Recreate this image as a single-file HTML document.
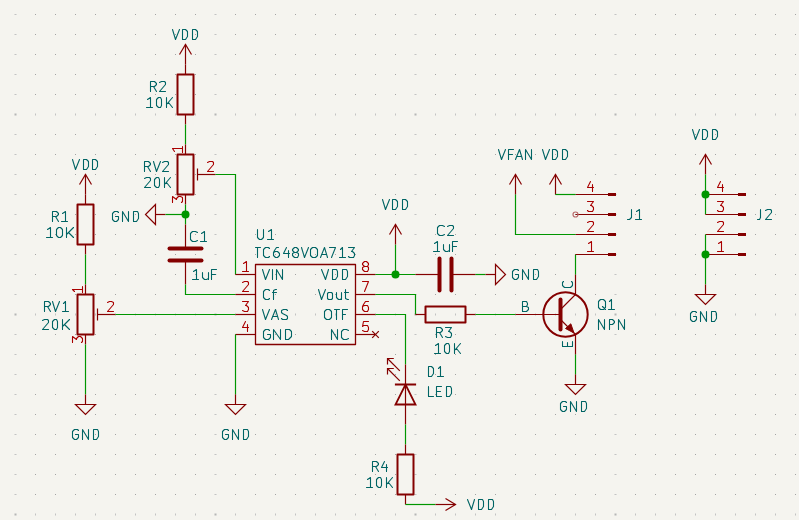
<!DOCTYPE html>
<html><head><meta charset="utf-8"><title>schematic</title>
<style>html,body{margin:0;padding:0;background:#f5f4ef;overflow:hidden}svg{display:block}body{font-family:"Liberation Sans",sans-serif}</style>
</head><body><svg width="799" height="520" viewBox="0 0 799 520">
<rect width="799" height="520" fill="#f5f4ef"/>
<path d="M35,14h1v1h-1zM35,34h1v1h-1zM35,54h1v1h-1zM35,74h1v1h-1zM35,94h1v1h-1zM35,134h1v1h-1zM35,154h1v1h-1zM35,174h1v1h-1zM35,194h1v1h-1zM35,214h1v1h-1zM35,234h1v1h-1zM35,254h1v1h-1zM35,274h1v1h-1zM35,294h1v1h-1zM35,334h1v1h-1zM35,354h1v1h-1zM35,374h1v1h-1zM35,394h1v1h-1zM35,414h1v1h-1zM35,434h1v1h-1zM35,454h1v1h-1zM35,474h1v1h-1zM35,494h1v1h-1zM55,14h1v1h-1zM55,34h1v1h-1zM55,54h1v1h-1zM55,74h1v1h-1zM55,94h1v1h-1zM55,134h1v1h-1zM55,154h1v1h-1zM55,174h1v1h-1zM55,194h1v1h-1zM55,214h1v1h-1zM55,234h1v1h-1zM55,254h1v1h-1zM55,274h1v1h-1zM55,294h1v1h-1zM55,334h1v1h-1zM55,354h1v1h-1zM55,374h1v1h-1zM55,394h1v1h-1zM55,414h1v1h-1zM55,434h1v1h-1zM55,454h1v1h-1zM55,474h1v1h-1zM55,494h1v1h-1zM75,14h1v1h-1zM75,34h1v1h-1zM75,54h1v1h-1zM75,74h1v1h-1zM75,94h1v1h-1zM75,134h1v1h-1zM75,154h1v1h-1zM75,174h1v1h-1zM75,194h1v1h-1zM75,214h1v1h-1zM75,234h1v1h-1zM75,254h1v1h-1zM75,274h1v1h-1zM75,294h1v1h-1zM75,334h1v1h-1zM75,354h1v1h-1zM75,374h1v1h-1zM75,394h1v1h-1zM75,414h1v1h-1zM75,434h1v1h-1zM75,454h1v1h-1zM75,474h1v1h-1zM75,494h1v1h-1zM95,14h1v1h-1zM95,34h1v1h-1zM95,54h1v1h-1zM95,74h1v1h-1zM95,94h1v1h-1zM95,134h1v1h-1zM95,154h1v1h-1zM95,174h1v1h-1zM95,194h1v1h-1zM95,214h1v1h-1zM95,234h1v1h-1zM95,254h1v1h-1zM95,274h1v1h-1zM95,294h1v1h-1zM95,334h1v1h-1zM95,354h1v1h-1zM95,374h1v1h-1zM95,394h1v1h-1zM95,414h1v1h-1zM95,434h1v1h-1zM95,454h1v1h-1zM95,474h1v1h-1zM95,494h1v1h-1zM115,14h1v1h-1zM115,34h1v1h-1zM115,54h1v1h-1zM115,74h1v1h-1zM115,94h1v1h-1zM115,134h1v1h-1zM115,154h1v1h-1zM115,174h1v1h-1zM115,194h1v1h-1zM115,214h1v1h-1zM115,234h1v1h-1zM115,254h1v1h-1zM115,274h1v1h-1zM115,294h1v1h-1zM115,334h1v1h-1zM115,354h1v1h-1zM115,374h1v1h-1zM115,394h1v1h-1zM115,414h1v1h-1zM115,434h1v1h-1zM115,454h1v1h-1zM115,474h1v1h-1zM115,494h1v1h-1zM135,14h1v1h-1zM135,34h1v1h-1zM135,54h1v1h-1zM135,74h1v1h-1zM135,94h1v1h-1zM135,134h1v1h-1zM135,154h1v1h-1zM135,174h1v1h-1zM135,194h1v1h-1zM135,214h1v1h-1zM135,234h1v1h-1zM135,254h1v1h-1zM135,274h1v1h-1zM135,294h1v1h-1zM135,334h1v1h-1zM135,354h1v1h-1zM135,374h1v1h-1zM135,394h1v1h-1zM135,414h1v1h-1zM135,434h1v1h-1zM135,454h1v1h-1zM135,474h1v1h-1zM135,494h1v1h-1zM155,14h1v1h-1zM155,34h1v1h-1zM155,54h1v1h-1zM155,74h1v1h-1zM155,94h1v1h-1zM155,134h1v1h-1zM155,154h1v1h-1zM155,174h1v1h-1zM155,194h1v1h-1zM155,214h1v1h-1zM155,234h1v1h-1zM155,254h1v1h-1zM155,274h1v1h-1zM155,294h1v1h-1zM155,334h1v1h-1zM155,354h1v1h-1zM155,374h1v1h-1zM155,394h1v1h-1zM155,414h1v1h-1zM155,434h1v1h-1zM155,454h1v1h-1zM155,474h1v1h-1zM155,494h1v1h-1zM175,14h1v1h-1zM175,34h1v1h-1zM175,54h1v1h-1zM175,74h1v1h-1zM175,94h1v1h-1zM175,134h1v1h-1zM175,154h1v1h-1zM175,174h1v1h-1zM175,194h1v1h-1zM175,214h1v1h-1zM175,234h1v1h-1zM175,254h1v1h-1zM175,274h1v1h-1zM175,294h1v1h-1zM175,334h1v1h-1zM175,354h1v1h-1zM175,374h1v1h-1zM175,394h1v1h-1zM175,414h1v1h-1zM175,434h1v1h-1zM175,454h1v1h-1zM175,474h1v1h-1zM175,494h1v1h-1zM195,14h1v1h-1zM195,34h1v1h-1zM195,54h1v1h-1zM195,74h1v1h-1zM195,94h1v1h-1zM195,134h1v1h-1zM195,154h1v1h-1zM195,174h1v1h-1zM195,194h1v1h-1zM195,214h1v1h-1zM195,234h1v1h-1zM195,254h1v1h-1zM195,274h1v1h-1zM195,294h1v1h-1zM195,334h1v1h-1zM195,354h1v1h-1zM195,374h1v1h-1zM195,394h1v1h-1zM195,414h1v1h-1zM195,434h1v1h-1zM195,454h1v1h-1zM195,474h1v1h-1zM195,494h1v1h-1zM235,14h1v1h-1zM235,34h1v1h-1zM235,54h1v1h-1zM235,74h1v1h-1zM235,94h1v1h-1zM235,134h1v1h-1zM235,154h1v1h-1zM235,174h1v1h-1zM235,194h1v1h-1zM235,214h1v1h-1zM235,234h1v1h-1zM235,254h1v1h-1zM235,274h1v1h-1zM235,294h1v1h-1zM235,334h1v1h-1zM235,354h1v1h-1zM235,374h1v1h-1zM235,394h1v1h-1zM235,414h1v1h-1zM235,434h1v1h-1zM235,454h1v1h-1zM235,474h1v1h-1zM235,494h1v1h-1zM255,14h1v1h-1zM255,34h1v1h-1zM255,54h1v1h-1zM255,74h1v1h-1zM255,94h1v1h-1zM255,134h1v1h-1zM255,154h1v1h-1zM255,174h1v1h-1zM255,194h1v1h-1zM255,214h1v1h-1zM255,234h1v1h-1zM255,254h1v1h-1zM255,274h1v1h-1zM255,294h1v1h-1zM255,334h1v1h-1zM255,354h1v1h-1zM255,374h1v1h-1zM255,394h1v1h-1zM255,414h1v1h-1zM255,434h1v1h-1zM255,454h1v1h-1zM255,474h1v1h-1zM255,494h1v1h-1zM275,14h1v1h-1zM275,34h1v1h-1zM275,54h1v1h-1zM275,74h1v1h-1zM275,94h1v1h-1zM275,134h1v1h-1zM275,154h1v1h-1zM275,174h1v1h-1zM275,194h1v1h-1zM275,214h1v1h-1zM275,234h1v1h-1zM275,254h1v1h-1zM275,274h1v1h-1zM275,294h1v1h-1zM275,334h1v1h-1zM275,354h1v1h-1zM275,374h1v1h-1zM275,394h1v1h-1zM275,414h1v1h-1zM275,434h1v1h-1zM275,454h1v1h-1zM275,474h1v1h-1zM275,494h1v1h-1zM295,14h1v1h-1zM295,34h1v1h-1zM295,54h1v1h-1zM295,74h1v1h-1zM295,94h1v1h-1zM295,134h1v1h-1zM295,154h1v1h-1zM295,174h1v1h-1zM295,194h1v1h-1zM295,214h1v1h-1zM295,234h1v1h-1zM295,254h1v1h-1zM295,274h1v1h-1zM295,294h1v1h-1zM295,334h1v1h-1zM295,354h1v1h-1zM295,374h1v1h-1zM295,394h1v1h-1zM295,414h1v1h-1zM295,434h1v1h-1zM295,454h1v1h-1zM295,474h1v1h-1zM295,494h1v1h-1zM315,14h1v1h-1zM315,34h1v1h-1zM315,54h1v1h-1zM315,74h1v1h-1zM315,94h1v1h-1zM315,134h1v1h-1zM315,154h1v1h-1zM315,174h1v1h-1zM315,194h1v1h-1zM315,214h1v1h-1zM315,234h1v1h-1zM315,254h1v1h-1zM315,274h1v1h-1zM315,294h1v1h-1zM315,334h1v1h-1zM315,354h1v1h-1zM315,374h1v1h-1zM315,394h1v1h-1zM315,414h1v1h-1zM315,434h1v1h-1zM315,454h1v1h-1zM315,474h1v1h-1zM315,494h1v1h-1zM335,14h1v1h-1zM335,34h1v1h-1zM335,54h1v1h-1zM335,74h1v1h-1zM335,94h1v1h-1zM335,134h1v1h-1zM335,154h1v1h-1zM335,174h1v1h-1zM335,194h1v1h-1zM335,214h1v1h-1zM335,234h1v1h-1zM335,254h1v1h-1zM335,274h1v1h-1zM335,294h1v1h-1zM335,334h1v1h-1zM335,354h1v1h-1zM335,374h1v1h-1zM335,394h1v1h-1zM335,414h1v1h-1zM335,434h1v1h-1zM335,454h1v1h-1zM335,474h1v1h-1zM335,494h1v1h-1zM355,14h1v1h-1zM355,34h1v1h-1zM355,54h1v1h-1zM355,74h1v1h-1zM355,94h1v1h-1zM355,134h1v1h-1zM355,154h1v1h-1zM355,174h1v1h-1zM355,194h1v1h-1zM355,214h1v1h-1zM355,234h1v1h-1zM355,254h1v1h-1zM355,274h1v1h-1zM355,294h1v1h-1zM355,334h1v1h-1zM355,354h1v1h-1zM355,374h1v1h-1zM355,394h1v1h-1zM355,414h1v1h-1zM355,434h1v1h-1zM355,454h1v1h-1zM355,474h1v1h-1zM355,494h1v1h-1zM375,14h1v1h-1zM375,34h1v1h-1zM375,54h1v1h-1zM375,74h1v1h-1zM375,94h1v1h-1zM375,134h1v1h-1zM375,154h1v1h-1zM375,174h1v1h-1zM375,194h1v1h-1zM375,214h1v1h-1zM375,234h1v1h-1zM375,254h1v1h-1zM375,274h1v1h-1zM375,294h1v1h-1zM375,334h1v1h-1zM375,354h1v1h-1zM375,374h1v1h-1zM375,394h1v1h-1zM375,414h1v1h-1zM375,434h1v1h-1zM375,454h1v1h-1zM375,474h1v1h-1zM375,494h1v1h-1zM395,14h1v1h-1zM395,34h1v1h-1zM395,54h1v1h-1zM395,74h1v1h-1zM395,94h1v1h-1zM395,134h1v1h-1zM395,154h1v1h-1zM395,174h1v1h-1zM395,194h1v1h-1zM395,214h1v1h-1zM395,234h1v1h-1zM395,254h1v1h-1zM395,274h1v1h-1zM395,294h1v1h-1zM395,334h1v1h-1zM395,354h1v1h-1zM395,374h1v1h-1zM395,394h1v1h-1zM395,414h1v1h-1zM395,434h1v1h-1zM395,454h1v1h-1zM395,474h1v1h-1zM395,494h1v1h-1zM435,14h1v1h-1zM435,34h1v1h-1zM435,54h1v1h-1zM435,74h1v1h-1zM435,94h1v1h-1zM435,134h1v1h-1zM435,154h1v1h-1zM435,174h1v1h-1zM435,194h1v1h-1zM435,214h1v1h-1zM435,234h1v1h-1zM435,254h1v1h-1zM435,274h1v1h-1zM435,294h1v1h-1zM435,334h1v1h-1zM435,354h1v1h-1zM435,374h1v1h-1zM435,394h1v1h-1zM435,414h1v1h-1zM435,434h1v1h-1zM435,454h1v1h-1zM435,474h1v1h-1zM435,494h1v1h-1zM455,14h1v1h-1zM455,34h1v1h-1zM455,54h1v1h-1zM455,74h1v1h-1zM455,94h1v1h-1zM455,134h1v1h-1zM455,154h1v1h-1zM455,174h1v1h-1zM455,194h1v1h-1zM455,214h1v1h-1zM455,234h1v1h-1zM455,254h1v1h-1zM455,274h1v1h-1zM455,294h1v1h-1zM455,334h1v1h-1zM455,354h1v1h-1zM455,374h1v1h-1zM455,394h1v1h-1zM455,414h1v1h-1zM455,434h1v1h-1zM455,454h1v1h-1zM455,474h1v1h-1zM455,494h1v1h-1zM475,14h1v1h-1zM475,34h1v1h-1zM475,54h1v1h-1zM475,74h1v1h-1zM475,94h1v1h-1zM475,134h1v1h-1zM475,154h1v1h-1zM475,174h1v1h-1zM475,194h1v1h-1zM475,214h1v1h-1zM475,234h1v1h-1zM475,254h1v1h-1zM475,274h1v1h-1zM475,294h1v1h-1zM475,334h1v1h-1zM475,354h1v1h-1zM475,374h1v1h-1zM475,394h1v1h-1zM475,414h1v1h-1zM475,434h1v1h-1zM475,454h1v1h-1zM475,474h1v1h-1zM475,494h1v1h-1zM495,14h1v1h-1zM495,34h1v1h-1zM495,54h1v1h-1zM495,74h1v1h-1zM495,94h1v1h-1zM495,134h1v1h-1zM495,154h1v1h-1zM495,174h1v1h-1zM495,194h1v1h-1zM495,214h1v1h-1zM495,234h1v1h-1zM495,254h1v1h-1zM495,274h1v1h-1zM495,294h1v1h-1zM495,334h1v1h-1zM495,354h1v1h-1zM495,374h1v1h-1zM495,394h1v1h-1zM495,414h1v1h-1zM495,434h1v1h-1zM495,454h1v1h-1zM495,474h1v1h-1zM495,494h1v1h-1zM515,14h1v1h-1zM515,34h1v1h-1zM515,54h1v1h-1zM515,74h1v1h-1zM515,94h1v1h-1zM515,134h1v1h-1zM515,154h1v1h-1zM515,174h1v1h-1zM515,194h1v1h-1zM515,214h1v1h-1zM515,234h1v1h-1zM515,254h1v1h-1zM515,274h1v1h-1zM515,294h1v1h-1zM515,334h1v1h-1zM515,354h1v1h-1zM515,374h1v1h-1zM515,394h1v1h-1zM515,414h1v1h-1zM515,434h1v1h-1zM515,454h1v1h-1zM515,474h1v1h-1zM515,494h1v1h-1zM535,14h1v1h-1zM535,34h1v1h-1zM535,54h1v1h-1zM535,74h1v1h-1zM535,94h1v1h-1zM535,134h1v1h-1zM535,154h1v1h-1zM535,174h1v1h-1zM535,194h1v1h-1zM535,214h1v1h-1zM535,234h1v1h-1zM535,254h1v1h-1zM535,274h1v1h-1zM535,294h1v1h-1zM535,334h1v1h-1zM535,354h1v1h-1zM535,374h1v1h-1zM535,394h1v1h-1zM535,414h1v1h-1zM535,434h1v1h-1zM535,454h1v1h-1zM535,474h1v1h-1zM535,494h1v1h-1zM555,14h1v1h-1zM555,34h1v1h-1zM555,54h1v1h-1zM555,74h1v1h-1zM555,94h1v1h-1zM555,134h1v1h-1zM555,154h1v1h-1zM555,174h1v1h-1zM555,194h1v1h-1zM555,214h1v1h-1zM555,234h1v1h-1zM555,254h1v1h-1zM555,274h1v1h-1zM555,294h1v1h-1zM555,334h1v1h-1zM555,354h1v1h-1zM555,374h1v1h-1zM555,394h1v1h-1zM555,414h1v1h-1zM555,434h1v1h-1zM555,454h1v1h-1zM555,474h1v1h-1zM555,494h1v1h-1zM575,14h1v1h-1zM575,34h1v1h-1zM575,54h1v1h-1zM575,74h1v1h-1zM575,94h1v1h-1zM575,134h1v1h-1zM575,154h1v1h-1zM575,174h1v1h-1zM575,194h1v1h-1zM575,214h1v1h-1zM575,234h1v1h-1zM575,254h1v1h-1zM575,274h1v1h-1zM575,294h1v1h-1zM575,334h1v1h-1zM575,354h1v1h-1zM575,374h1v1h-1zM575,394h1v1h-1zM575,414h1v1h-1zM575,434h1v1h-1zM575,454h1v1h-1zM575,474h1v1h-1zM575,494h1v1h-1zM595,14h1v1h-1zM595,34h1v1h-1zM595,54h1v1h-1zM595,74h1v1h-1zM595,94h1v1h-1zM595,134h1v1h-1zM595,154h1v1h-1zM595,174h1v1h-1zM595,194h1v1h-1zM595,214h1v1h-1zM595,234h1v1h-1zM595,254h1v1h-1zM595,274h1v1h-1zM595,294h1v1h-1zM595,334h1v1h-1zM595,354h1v1h-1zM595,374h1v1h-1zM595,394h1v1h-1zM595,414h1v1h-1zM595,434h1v1h-1zM595,454h1v1h-1zM595,474h1v1h-1zM595,494h1v1h-1zM635,14h1v1h-1zM635,34h1v1h-1zM635,54h1v1h-1zM635,74h1v1h-1zM635,94h1v1h-1zM635,134h1v1h-1zM635,154h1v1h-1zM635,174h1v1h-1zM635,194h1v1h-1zM635,214h1v1h-1zM635,234h1v1h-1zM635,254h1v1h-1zM635,274h1v1h-1zM635,294h1v1h-1zM635,334h1v1h-1zM635,354h1v1h-1zM635,374h1v1h-1zM635,394h1v1h-1zM635,414h1v1h-1zM635,434h1v1h-1zM635,454h1v1h-1zM635,474h1v1h-1zM635,494h1v1h-1zM655,14h1v1h-1zM655,34h1v1h-1zM655,54h1v1h-1zM655,74h1v1h-1zM655,94h1v1h-1zM655,134h1v1h-1zM655,154h1v1h-1zM655,174h1v1h-1zM655,194h1v1h-1zM655,214h1v1h-1zM655,234h1v1h-1zM655,254h1v1h-1zM655,274h1v1h-1zM655,294h1v1h-1zM655,334h1v1h-1zM655,354h1v1h-1zM655,374h1v1h-1zM655,394h1v1h-1zM655,414h1v1h-1zM655,434h1v1h-1zM655,454h1v1h-1zM655,474h1v1h-1zM655,494h1v1h-1zM675,14h1v1h-1zM675,34h1v1h-1zM675,54h1v1h-1zM675,74h1v1h-1zM675,94h1v1h-1zM675,134h1v1h-1zM675,154h1v1h-1zM675,174h1v1h-1zM675,194h1v1h-1zM675,214h1v1h-1zM675,234h1v1h-1zM675,254h1v1h-1zM675,274h1v1h-1zM675,294h1v1h-1zM675,334h1v1h-1zM675,354h1v1h-1zM675,374h1v1h-1zM675,394h1v1h-1zM675,414h1v1h-1zM675,434h1v1h-1zM675,454h1v1h-1zM675,474h1v1h-1zM675,494h1v1h-1zM695,14h1v1h-1zM695,34h1v1h-1zM695,54h1v1h-1zM695,74h1v1h-1zM695,94h1v1h-1zM695,134h1v1h-1zM695,154h1v1h-1zM695,174h1v1h-1zM695,194h1v1h-1zM695,214h1v1h-1zM695,234h1v1h-1zM695,254h1v1h-1zM695,274h1v1h-1zM695,294h1v1h-1zM695,334h1v1h-1zM695,354h1v1h-1zM695,374h1v1h-1zM695,394h1v1h-1zM695,414h1v1h-1zM695,434h1v1h-1zM695,454h1v1h-1zM695,474h1v1h-1zM695,494h1v1h-1zM715,14h1v1h-1zM715,34h1v1h-1zM715,54h1v1h-1zM715,74h1v1h-1zM715,94h1v1h-1zM715,134h1v1h-1zM715,154h1v1h-1zM715,174h1v1h-1zM715,194h1v1h-1zM715,214h1v1h-1zM715,234h1v1h-1zM715,254h1v1h-1zM715,274h1v1h-1zM715,294h1v1h-1zM715,334h1v1h-1zM715,354h1v1h-1zM715,374h1v1h-1zM715,394h1v1h-1zM715,414h1v1h-1zM715,434h1v1h-1zM715,454h1v1h-1zM715,474h1v1h-1zM715,494h1v1h-1zM735,14h1v1h-1zM735,34h1v1h-1zM735,54h1v1h-1zM735,74h1v1h-1zM735,94h1v1h-1zM735,134h1v1h-1zM735,154h1v1h-1zM735,174h1v1h-1zM735,194h1v1h-1zM735,214h1v1h-1zM735,234h1v1h-1zM735,254h1v1h-1zM735,274h1v1h-1zM735,294h1v1h-1zM735,334h1v1h-1zM735,354h1v1h-1zM735,374h1v1h-1zM735,394h1v1h-1zM735,414h1v1h-1zM735,434h1v1h-1zM735,454h1v1h-1zM735,474h1v1h-1zM735,494h1v1h-1zM755,14h1v1h-1zM755,34h1v1h-1zM755,54h1v1h-1zM755,74h1v1h-1zM755,94h1v1h-1zM755,134h1v1h-1zM755,154h1v1h-1zM755,174h1v1h-1zM755,194h1v1h-1zM755,214h1v1h-1zM755,234h1v1h-1zM755,254h1v1h-1zM755,274h1v1h-1zM755,294h1v1h-1zM755,334h1v1h-1zM755,354h1v1h-1zM755,374h1v1h-1zM755,394h1v1h-1zM755,414h1v1h-1zM755,434h1v1h-1zM755,454h1v1h-1zM755,474h1v1h-1zM755,494h1v1h-1zM775,14h1v1h-1zM775,34h1v1h-1zM775,54h1v1h-1zM775,74h1v1h-1zM775,94h1v1h-1zM775,134h1v1h-1zM775,154h1v1h-1zM775,174h1v1h-1zM775,194h1v1h-1zM775,214h1v1h-1zM775,234h1v1h-1zM775,254h1v1h-1zM775,274h1v1h-1zM775,294h1v1h-1zM775,334h1v1h-1zM775,354h1v1h-1zM775,374h1v1h-1zM775,394h1v1h-1zM775,414h1v1h-1zM775,434h1v1h-1zM775,454h1v1h-1zM775,474h1v1h-1zM775,494h1v1h-1zM795,14h1v1h-1zM795,34h1v1h-1zM795,54h1v1h-1zM795,74h1v1h-1zM795,94h1v1h-1zM795,134h1v1h-1zM795,154h1v1h-1zM795,174h1v1h-1zM795,194h1v1h-1zM795,214h1v1h-1zM795,234h1v1h-1zM795,254h1v1h-1zM795,274h1v1h-1zM795,294h1v1h-1zM795,334h1v1h-1zM795,354h1v1h-1zM795,374h1v1h-1zM795,394h1v1h-1zM795,414h1v1h-1zM795,434h1v1h-1zM795,454h1v1h-1zM795,474h1v1h-1zM795,494h1v1h-1z" fill="#a3a3a3"/>
<path d="M14.5,14h2v1h-2zM14.5,34h2v1h-2zM14.5,54h2v1h-2zM14.5,74h2v1h-2zM14.5,94h2v1h-2zM14.5,134h2v1h-2zM14.5,154h2v1h-2zM14.5,174h2v1h-2zM14.5,194h2v1h-2zM14.5,214h2v1h-2zM14.5,234h2v1h-2zM14.5,254h2v1h-2zM14.5,274h2v1h-2zM14.5,294h2v1h-2zM14.5,334h2v1h-2zM14.5,354h2v1h-2zM14.5,374h2v1h-2zM14.5,394h2v1h-2zM14.5,414h2v1h-2zM14.5,434h2v1h-2zM14.5,454h2v1h-2zM14.5,474h2v1h-2zM14.5,494h2v1h-2zM214.5,14h2v1h-2zM214.5,34h2v1h-2zM214.5,54h2v1h-2zM214.5,74h2v1h-2zM214.5,94h2v1h-2zM214.5,134h2v1h-2zM214.5,154h2v1h-2zM214.5,174h2v1h-2zM214.5,194h2v1h-2zM214.5,214h2v1h-2zM214.5,234h2v1h-2zM214.5,254h2v1h-2zM214.5,274h2v1h-2zM214.5,294h2v1h-2zM214.5,334h2v1h-2zM214.5,354h2v1h-2zM214.5,374h2v1h-2zM214.5,394h2v1h-2zM214.5,414h2v1h-2zM214.5,434h2v1h-2zM214.5,454h2v1h-2zM214.5,474h2v1h-2zM214.5,494h2v1h-2zM414.5,14h2v1h-2zM414.5,34h2v1h-2zM414.5,54h2v1h-2zM414.5,74h2v1h-2zM414.5,94h2v1h-2zM414.5,134h2v1h-2zM414.5,154h2v1h-2zM414.5,174h2v1h-2zM414.5,194h2v1h-2zM414.5,214h2v1h-2zM414.5,234h2v1h-2zM414.5,254h2v1h-2zM414.5,274h2v1h-2zM414.5,294h2v1h-2zM414.5,334h2v1h-2zM414.5,354h2v1h-2zM414.5,374h2v1h-2zM414.5,394h2v1h-2zM414.5,414h2v1h-2zM414.5,434h2v1h-2zM414.5,454h2v1h-2zM414.5,474h2v1h-2zM414.5,494h2v1h-2zM614.5,14h2v1h-2zM614.5,34h2v1h-2zM614.5,54h2v1h-2zM614.5,74h2v1h-2zM614.5,94h2v1h-2zM614.5,134h2v1h-2zM614.5,154h2v1h-2zM614.5,174h2v1h-2zM614.5,194h2v1h-2zM614.5,214h2v1h-2zM614.5,234h2v1h-2zM614.5,254h2v1h-2zM614.5,274h2v1h-2zM614.5,294h2v1h-2zM614.5,334h2v1h-2zM614.5,354h2v1h-2zM614.5,374h2v1h-2zM614.5,394h2v1h-2zM614.5,414h2v1h-2zM614.5,434h2v1h-2zM614.5,454h2v1h-2zM614.5,474h2v1h-2zM614.5,494h2v1h-2zM35,113.5h1v2h-1zM35,313.5h1v2h-1zM35,513.5h1v2h-1zM55,113.5h1v2h-1zM55,313.5h1v2h-1zM55,513.5h1v2h-1zM75,113.5h1v2h-1zM75,313.5h1v2h-1zM75,513.5h1v2h-1zM95,113.5h1v2h-1zM95,313.5h1v2h-1zM95,513.5h1v2h-1zM115,113.5h1v2h-1zM115,313.5h1v2h-1zM115,513.5h1v2h-1zM135,113.5h1v2h-1zM135,313.5h1v2h-1zM135,513.5h1v2h-1zM155,113.5h1v2h-1zM155,313.5h1v2h-1zM155,513.5h1v2h-1zM175,113.5h1v2h-1zM175,313.5h1v2h-1zM175,513.5h1v2h-1zM195,113.5h1v2h-1zM195,313.5h1v2h-1zM195,513.5h1v2h-1zM235,113.5h1v2h-1zM235,313.5h1v2h-1zM235,513.5h1v2h-1zM255,113.5h1v2h-1zM255,313.5h1v2h-1zM255,513.5h1v2h-1zM275,113.5h1v2h-1zM275,313.5h1v2h-1zM275,513.5h1v2h-1zM295,113.5h1v2h-1zM295,313.5h1v2h-1zM295,513.5h1v2h-1zM315,113.5h1v2h-1zM315,313.5h1v2h-1zM315,513.5h1v2h-1zM335,113.5h1v2h-1zM335,313.5h1v2h-1zM335,513.5h1v2h-1zM355,113.5h1v2h-1zM355,313.5h1v2h-1zM355,513.5h1v2h-1zM375,113.5h1v2h-1zM375,313.5h1v2h-1zM375,513.5h1v2h-1zM395,113.5h1v2h-1zM395,313.5h1v2h-1zM395,513.5h1v2h-1zM435,113.5h1v2h-1zM435,313.5h1v2h-1zM435,513.5h1v2h-1zM455,113.5h1v2h-1zM455,313.5h1v2h-1zM455,513.5h1v2h-1zM475,113.5h1v2h-1zM475,313.5h1v2h-1zM475,513.5h1v2h-1zM495,113.5h1v2h-1zM495,313.5h1v2h-1zM495,513.5h1v2h-1zM515,113.5h1v2h-1zM515,313.5h1v2h-1zM515,513.5h1v2h-1zM535,113.5h1v2h-1zM535,313.5h1v2h-1zM535,513.5h1v2h-1zM555,113.5h1v2h-1zM555,313.5h1v2h-1zM555,513.5h1v2h-1zM575,113.5h1v2h-1zM575,313.5h1v2h-1zM575,513.5h1v2h-1zM595,113.5h1v2h-1zM595,313.5h1v2h-1zM595,513.5h1v2h-1zM635,113.5h1v2h-1zM635,313.5h1v2h-1zM635,513.5h1v2h-1zM655,113.5h1v2h-1zM655,313.5h1v2h-1zM655,513.5h1v2h-1zM675,113.5h1v2h-1zM675,313.5h1v2h-1zM675,513.5h1v2h-1zM695,113.5h1v2h-1zM695,313.5h1v2h-1zM695,513.5h1v2h-1zM715,113.5h1v2h-1zM715,313.5h1v2h-1zM715,513.5h1v2h-1zM735,113.5h1v2h-1zM735,313.5h1v2h-1zM735,513.5h1v2h-1zM755,113.5h1v2h-1zM755,313.5h1v2h-1zM755,513.5h1v2h-1zM775,113.5h1v2h-1zM775,313.5h1v2h-1zM775,513.5h1v2h-1zM795,113.5h1v2h-1zM795,313.5h1v2h-1zM795,513.5h1v2h-1z" fill="#c2c2c2"/>
<path d="M14.5,113.5h2v2h-2zM14.5,313.5h2v2h-2zM14.5,513.5h2v2h-2zM214.5,113.5h2v2h-2zM214.5,313.5h2v2h-2zM214.5,513.5h2v2h-2zM414.5,113.5h2v2h-2zM414.5,313.5h2v2h-2zM414.5,513.5h2v2h-2zM614.5,113.5h2v2h-2zM614.5,313.5h2v2h-2zM614.5,513.5h2v2h-2z" fill="#b5b5b5"/>
<polyline points="185.5,64.5 185.5,44.5" fill="none" stroke="#840000" stroke-width="1.2" stroke-linecap="butt" stroke-linejoin="miter"/>
<polyline points="179.5,54.5 185.5,44.5 191.5,54.5" fill="none" stroke="#840000" stroke-width="1.2" stroke-linecap="butt" stroke-linejoin="miter"/>
<polyline points="185.5,64.5 185.5,74.5" fill="none" stroke="#840000" stroke-width="1.2" stroke-linecap="butt" stroke-linejoin="miter"/>
<polyline points="185.5,114.5 185.5,124.5" fill="none" stroke="#840000" stroke-width="1.2" stroke-linecap="butt" stroke-linejoin="miter"/>
<polyline points="185.5,124.5 185.5,144.5" fill="none" stroke="#009600" stroke-width="1.2" stroke-linecap="butt" stroke-linejoin="miter"/>
<polyline points="185.5,144.5 185.5,154.5" fill="none" stroke="#840000" stroke-width="1.2" stroke-linecap="butt" stroke-linejoin="miter"/>
<polyline points="185.5,194.5 185.5,204.5" fill="none" stroke="#840000" stroke-width="1.2" stroke-linecap="butt" stroke-linejoin="miter"/>
<polyline points="197.5,168.5 197.5,180.5" fill="none" stroke="#840000" stroke-width="1.2" stroke-linecap="butt" stroke-linejoin="miter"/>
<polyline points="197.5,174.5 215.5,174.5" fill="none" stroke="#840000" stroke-width="1.2" stroke-linecap="butt" stroke-linejoin="miter"/>
<polyline points="215.5,174.5 235.5,174.5 235.5,274.5" fill="none" stroke="#009600" stroke-width="1.2" stroke-linecap="butt" stroke-linejoin="miter"/>
<polyline points="165.5,214.5 155.5,214.5" fill="none" stroke="#840000" stroke-width="1.2" stroke-linecap="butt" stroke-linejoin="miter"/>
<polyline points="165.5,214.5 185.5,214.5" fill="none" stroke="#009600" stroke-width="1.2" stroke-linecap="butt" stroke-linejoin="miter"/>
<polyline points="185.5,204.5 185.5,224.5" fill="none" stroke="#009600" stroke-width="1.2" stroke-linecap="butt" stroke-linejoin="miter"/>
<polyline points="185.5,224.5 185.5,248.5" fill="none" stroke="#840000" stroke-width="1.2" stroke-linecap="butt" stroke-linejoin="miter"/>
<polyline points="185.5,260.5 185.5,284.5" fill="none" stroke="#840000" stroke-width="1.2" stroke-linecap="butt" stroke-linejoin="miter"/>
<polyline points="169.5,248.5 201.5,248.5" fill="none" stroke="#840000" stroke-width="4" stroke-linecap="round" stroke-linejoin="miter"/>
<polyline points="169.5,260.5 201.5,260.5" fill="none" stroke="#840000" stroke-width="4" stroke-linecap="round" stroke-linejoin="miter"/>
<polyline points="185.5,284.5 185.5,294.5 235.5,294.5" fill="none" stroke="#009600" stroke-width="1.2" stroke-linecap="butt" stroke-linejoin="miter"/>
<polyline points="85.5,194.5 85.5,174.5" fill="none" stroke="#840000" stroke-width="1.2" stroke-linecap="butt" stroke-linejoin="miter"/>
<polyline points="79.5,184.5 85.5,174.5 91.5,184.5" fill="none" stroke="#840000" stroke-width="1.2" stroke-linecap="butt" stroke-linejoin="miter"/>
<polyline points="85.5,194.5 85.5,204.5" fill="none" stroke="#840000" stroke-width="1.2" stroke-linecap="butt" stroke-linejoin="miter"/>
<polyline points="85.5,244.5 85.5,254.5" fill="none" stroke="#840000" stroke-width="1.2" stroke-linecap="butt" stroke-linejoin="miter"/>
<polyline points="85.5,254.5 85.5,284.5" fill="none" stroke="#009600" stroke-width="1.2" stroke-linecap="butt" stroke-linejoin="miter"/>
<polyline points="85.5,284.5 85.5,294.5" fill="none" stroke="#840000" stroke-width="1.2" stroke-linecap="butt" stroke-linejoin="miter"/>
<polyline points="85.5,334.5 85.5,344.5" fill="none" stroke="#840000" stroke-width="1.2" stroke-linecap="butt" stroke-linejoin="miter"/>
<polyline points="97.5,308.5 97.5,320.5" fill="none" stroke="#840000" stroke-width="1.2" stroke-linecap="butt" stroke-linejoin="miter"/>
<polyline points="97.5,314.5 115.5,314.5" fill="none" stroke="#840000" stroke-width="1.2" stroke-linecap="butt" stroke-linejoin="miter"/>
<polyline points="115.5,314.5 235.5,314.5" fill="none" stroke="#009600" stroke-width="1.2" stroke-linecap="butt" stroke-linejoin="miter"/>
<polyline points="85.5,344.5 85.5,394.5" fill="none" stroke="#009600" stroke-width="1.2" stroke-linecap="butt" stroke-linejoin="miter"/>
<polyline points="85.5,394.5 85.5,404.5" fill="none" stroke="#840000" stroke-width="1.2" stroke-linecap="butt" stroke-linejoin="miter"/>
<polyline points="235.5,274.5 255.5,274.5" fill="none" stroke="#840000" stroke-width="1.2" stroke-linecap="butt" stroke-linejoin="miter"/>
<polyline points="355.5,274.5 375.5,274.5" fill="none" stroke="#840000" stroke-width="1.2" stroke-linecap="butt" stroke-linejoin="miter"/>
<polyline points="235.5,294.5 255.5,294.5" fill="none" stroke="#840000" stroke-width="1.2" stroke-linecap="butt" stroke-linejoin="miter"/>
<polyline points="355.5,294.5 375.5,294.5" fill="none" stroke="#840000" stroke-width="1.2" stroke-linecap="butt" stroke-linejoin="miter"/>
<polyline points="235.5,314.5 255.5,314.5" fill="none" stroke="#840000" stroke-width="1.2" stroke-linecap="butt" stroke-linejoin="miter"/>
<polyline points="355.5,314.5 375.5,314.5" fill="none" stroke="#840000" stroke-width="1.2" stroke-linecap="butt" stroke-linejoin="miter"/>
<polyline points="235.5,334.5 255.5,334.5" fill="none" stroke="#840000" stroke-width="1.2" stroke-linecap="butt" stroke-linejoin="miter"/>
<polyline points="355.5,334.5 375.5,334.5" fill="none" stroke="#840000" stroke-width="1.2" stroke-linecap="butt" stroke-linejoin="miter"/>
<polyline points="235.5,334.5 235.5,394.5" fill="none" stroke="#009600" stroke-width="1.2" stroke-linecap="butt" stroke-linejoin="miter"/>
<polyline points="235.5,394.5 235.5,404.5" fill="none" stroke="#840000" stroke-width="1.2" stroke-linecap="butt" stroke-linejoin="miter"/>
<polyline points="372.2,331.2 378.8,337.8" fill="none" stroke="#840000" stroke-width="1.2" stroke-linecap="butt" stroke-linejoin="miter"/>
<polyline points="372.2,337.8 378.8,331.2" fill="none" stroke="#840000" stroke-width="1.2" stroke-linecap="butt" stroke-linejoin="miter"/>
<polyline points="375.5,274.5 415.5,274.5" fill="none" stroke="#009600" stroke-width="1.2" stroke-linecap="butt" stroke-linejoin="miter"/>
<polyline points="395.5,274.5 395.5,244.5" fill="none" stroke="#009600" stroke-width="1.2" stroke-linecap="butt" stroke-linejoin="miter"/>
<polyline points="395.5,244.5 395.5,224.5" fill="none" stroke="#840000" stroke-width="1.2" stroke-linecap="butt" stroke-linejoin="miter"/>
<polyline points="389.5,234.5 395.5,224.5 401.5,234.5" fill="none" stroke="#840000" stroke-width="1.2" stroke-linecap="butt" stroke-linejoin="miter"/>
<polyline points="415.5,274.5 439.5,274.5" fill="none" stroke="#840000" stroke-width="1.2" stroke-linecap="butt" stroke-linejoin="miter"/>
<polyline points="451.5,274.5 475.5,274.5" fill="none" stroke="#840000" stroke-width="1.2" stroke-linecap="butt" stroke-linejoin="miter"/>
<polyline points="439.5,258.5 439.5,290.5" fill="none" stroke="#840000" stroke-width="4" stroke-linecap="round" stroke-linejoin="miter"/>
<polyline points="451.5,258.5 451.5,290.5" fill="none" stroke="#840000" stroke-width="4" stroke-linecap="round" stroke-linejoin="miter"/>
<polyline points="475.5,274.5 485.5,274.5" fill="none" stroke="#009600" stroke-width="1.2" stroke-linecap="butt" stroke-linejoin="miter"/>
<polyline points="485.5,274.5 495.5,274.5" fill="none" stroke="#840000" stroke-width="1.2" stroke-linecap="butt" stroke-linejoin="miter"/>
<polyline points="375.5,294.5 415.5,294.5 415.5,314.5" fill="none" stroke="#009600" stroke-width="1.2" stroke-linecap="butt" stroke-linejoin="miter"/>
<polyline points="415.5,314.5 425.5,314.5" fill="none" stroke="#840000" stroke-width="1.2" stroke-linecap="butt" stroke-linejoin="miter"/>
<polyline points="465.5,314.5 475.5,314.5" fill="none" stroke="#840000" stroke-width="1.2" stroke-linecap="butt" stroke-linejoin="miter"/>
<polyline points="475.5,314.5 515.5,314.5" fill="none" stroke="#009600" stroke-width="1.2" stroke-linecap="butt" stroke-linejoin="miter"/>
<polyline points="515.5,314.5 560.5,314.5" fill="none" stroke="#840000" stroke-width="1.2" stroke-linecap="butt" stroke-linejoin="miter"/>
<polyline points="560.5,299.5 560.5,329.5" fill="none" stroke="#840000" stroke-width="4" stroke-linecap="round" stroke-linejoin="miter"/>
<polyline points="560.5,309.5 575.5,294.5 575.5,274.5" fill="none" stroke="#840000" stroke-width="1.2" stroke-linecap="butt" stroke-linejoin="miter"/>
<polyline points="560.5,319.5 575.5,334.5 575.5,354.5" fill="none" stroke="#840000" stroke-width="1.2" stroke-linecap="butt" stroke-linejoin="miter"/>
<polyline points="575.5,274.5 575.5,254.5" fill="none" stroke="#009600" stroke-width="1.2" stroke-linecap="butt" stroke-linejoin="miter"/>
<polyline points="575.5,354.5 575.5,374.5" fill="none" stroke="#009600" stroke-width="1.2" stroke-linecap="butt" stroke-linejoin="miter"/>
<polyline points="575.5,374.5 575.5,384.5" fill="none" stroke="#840000" stroke-width="1.2" stroke-linecap="butt" stroke-linejoin="miter"/>
<polyline points="375.5,314.5 405.5,314.5 405.5,364.5" fill="none" stroke="#009600" stroke-width="1.2" stroke-linecap="butt" stroke-linejoin="miter"/>
<polyline points="405.5,364.5 405.5,424.5" fill="none" stroke="#840000" stroke-width="1.2" stroke-linecap="butt" stroke-linejoin="miter"/>
<polyline points="394.9,384.5 416.1,384.5" fill="none" stroke="#840000" stroke-width="2" stroke-linecap="butt" stroke-linejoin="miter"/>
<polyline points="399.8,370.8 387.5,358.5" fill="none" stroke="#840000" stroke-width="1.2" stroke-linecap="butt" stroke-linejoin="miter"/>
<polyline points="393.8,358.5 387.5,358.5 387.5,364.5" fill="none" stroke="#840000" stroke-width="1.2" stroke-linecap="butt" stroke-linejoin="miter"/>
<polyline points="399.8,380.8 387.5,368.5" fill="none" stroke="#840000" stroke-width="1.2" stroke-linecap="butt" stroke-linejoin="miter"/>
<polyline points="393.8,368.5 387.5,368.5 387.5,374.5" fill="none" stroke="#840000" stroke-width="1.2" stroke-linecap="butt" stroke-linejoin="miter"/>
<polyline points="405.5,424.5 405.5,444.5" fill="none" stroke="#009600" stroke-width="1.2" stroke-linecap="butt" stroke-linejoin="miter"/>
<polyline points="405.5,444.5 405.5,454.5" fill="none" stroke="#840000" stroke-width="1.2" stroke-linecap="butt" stroke-linejoin="miter"/>
<polyline points="405.5,494.5 405.5,504.5" fill="none" stroke="#840000" stroke-width="1.2" stroke-linecap="butt" stroke-linejoin="miter"/>
<polyline points="405.5,504.5 435.5,504.5" fill="none" stroke="#009600" stroke-width="1.2" stroke-linecap="butt" stroke-linejoin="miter"/>
<polyline points="435.5,504.5 455.5,504.5" fill="none" stroke="#840000" stroke-width="1.2" stroke-linecap="butt" stroke-linejoin="miter"/>
<polyline points="445.5,498.5 455.5,504.5 445.5,510.5" fill="none" stroke="#840000" stroke-width="1.2" stroke-linecap="butt" stroke-linejoin="miter"/>
<polyline points="575.5,194.5 615.5,194.5" fill="none" stroke="#840000" stroke-width="1.2" stroke-linecap="butt" stroke-linejoin="miter"/>
<polyline points="575.5,214.5 615.5,214.5" fill="none" stroke="#840000" stroke-width="1.2" stroke-linecap="butt" stroke-linejoin="miter"/>
<polyline points="575.5,234.5 615.5,234.5" fill="none" stroke="#840000" stroke-width="1.2" stroke-linecap="butt" stroke-linejoin="miter"/>
<polyline points="575.5,254.5 615.5,254.5" fill="none" stroke="#840000" stroke-width="1.2" stroke-linecap="butt" stroke-linejoin="miter"/>
<polyline points="515.5,194.5 515.5,174.5" fill="none" stroke="#840000" stroke-width="1.2" stroke-linecap="butt" stroke-linejoin="miter"/>
<polyline points="509.5,184.5 515.5,174.5 521.5,184.5" fill="none" stroke="#840000" stroke-width="1.2" stroke-linecap="butt" stroke-linejoin="miter"/>
<polyline points="515.5,194.5 515.5,234.5 575.5,234.5" fill="none" stroke="#009600" stroke-width="1.2" stroke-linecap="butt" stroke-linejoin="miter"/>
<polyline points="555.5,194.5 555.5,174.5" fill="none" stroke="#840000" stroke-width="1.2" stroke-linecap="butt" stroke-linejoin="miter"/>
<polyline points="549.5,184.5 555.5,174.5 561.5,184.5" fill="none" stroke="#840000" stroke-width="1.2" stroke-linecap="butt" stroke-linejoin="miter"/>
<polyline points="555.5,194.5 575.5,194.5" fill="none" stroke="#009600" stroke-width="1.2" stroke-linecap="butt" stroke-linejoin="miter"/>
<polyline points="705.5,174.5 705.5,154.5" fill="none" stroke="#840000" stroke-width="1.2" stroke-linecap="butt" stroke-linejoin="miter"/>
<polyline points="699.5,164.5 705.5,154.5 711.5,164.5" fill="none" stroke="#840000" stroke-width="1.2" stroke-linecap="butt" stroke-linejoin="miter"/>
<polyline points="705.5,174.5 705.5,214.5" fill="none" stroke="#009600" stroke-width="1.2" stroke-linecap="butt" stroke-linejoin="miter"/>
<polyline points="705.5,194.5 745.5,194.5" fill="none" stroke="#840000" stroke-width="1.2" stroke-linecap="butt" stroke-linejoin="miter"/>
<polyline points="705.5,214.5 745.5,214.5" fill="none" stroke="#840000" stroke-width="1.2" stroke-linecap="butt" stroke-linejoin="miter"/>
<polyline points="705.5,234.5 745.5,234.5" fill="none" stroke="#840000" stroke-width="1.2" stroke-linecap="butt" stroke-linejoin="miter"/>
<polyline points="705.5,254.5 745.5,254.5" fill="none" stroke="#840000" stroke-width="1.2" stroke-linecap="butt" stroke-linejoin="miter"/>
<polyline points="705.5,234.5 705.5,284.5" fill="none" stroke="#009600" stroke-width="1.2" stroke-linecap="butt" stroke-linejoin="miter"/>
<polyline points="705.5,284.5 705.5,294.5" fill="none" stroke="#840000" stroke-width="1.2" stroke-linecap="butt" stroke-linejoin="miter"/>
<rect x="177.5" y="74.5" width="16.0" height="40.0" fill="none" stroke="#840000" stroke-width="2" stroke-linejoin="round"/>
<rect x="177.5" y="154.5" width="16.0" height="40.0" fill="none" stroke="#840000" stroke-width="2" stroke-linejoin="round"/>
<polygon points="155.5,204.5 155.5,224.5 145.5,214.5" fill="none" stroke="#840000" stroke-width="1.2"/>
<circle cx="185.5" cy="214.5" r="4" fill="#009600"/>
<rect x="77.5" y="204.5" width="16.0" height="40.0" fill="none" stroke="#840000" stroke-width="2" stroke-linejoin="round"/>
<rect x="77.5" y="294.5" width="16.0" height="40.0" fill="none" stroke="#840000" stroke-width="2" stroke-linejoin="round"/>
<polygon points="75.5,404.5 95.5,404.5 85.5,414.5" fill="none" stroke="#840000" stroke-width="1.2" stroke-linejoin="miter"/>
<rect x="255.5" y="264.5" width="100.0" height="80.0" fill="none" stroke="#840000" stroke-width="1.3" stroke-linejoin="round"/>
<polygon points="225.5,404.5 245.5,404.5 235.5,414.5" fill="none" stroke="#840000" stroke-width="1.2" stroke-linejoin="miter"/>
<circle cx="395.5" cy="274.5" r="4" fill="#009600"/>
<polygon points="495.5,264.5 495.5,284.5 505.5,274.5" fill="none" stroke="#840000" stroke-width="1.2"/>
<rect x="425.5" y="306.5" width="40.0" height="16.0" fill="none" stroke="#840000" stroke-width="2" stroke-linejoin="round"/>
<circle cx="565.5" cy="314.5" r="22.2" fill="none" stroke="#840000" stroke-width="2"/>
<polygon points="574,333 565.5,328.5 570.8,323.8" fill="#840000" stroke="#840000" stroke-width="1" stroke-linejoin="round"/>
<polygon points="565.5,384.5 585.5,384.5 575.5,394.5" fill="none" stroke="#840000" stroke-width="1.2" stroke-linejoin="miter"/>
<polygon points="395.5,404.5 415.5,404.5 405.5,384.5" fill="none" stroke="#840000" stroke-width="1.8"/>
<rect x="397.5" y="454.5" width="16.0" height="40.0" fill="none" stroke="#840000" stroke-width="2" stroke-linejoin="round"/>
<rect x="608.0" y="193.0" width="8" height="3" fill="#840000"/>
<rect x="608.0" y="213.0" width="8" height="3" fill="#840000"/>
<rect x="608.0" y="233.0" width="8" height="3" fill="#840000"/>
<rect x="608.0" y="253.0" width="8" height="3" fill="#840000"/>
<circle cx="575.5" cy="214.5" r="2.5" fill="none" stroke="#b86a6a" stroke-width="1.2"/>
<circle cx="705.5" cy="194.5" r="4" fill="#009600"/>
<rect x="738.0" y="193.0" width="8" height="3" fill="#840000"/>
<rect x="738.0" y="213.0" width="8" height="3" fill="#840000"/>
<rect x="738.0" y="233.0" width="8" height="3" fill="#840000"/>
<rect x="738.0" y="253.0" width="8" height="3" fill="#840000"/>
<circle cx="705.5" cy="254.5" r="4" fill="#009600"/>
<polygon points="695.5,294.5 715.5,294.5 705.5,304.5" fill="none" stroke="#840000" stroke-width="1.2" stroke-linejoin="miter"/>
<path d="M 172.50,29.50 L 175.50,39.50 L 179.50,29.50 M 182.50,39.50 L 182.50,29.50 L 185.50,29.50 L 187.50,31.50 L 187.50,36.50 L 185.50,39.50 Z M 192.50,39.50 L 192.50,29.50 L 195.50,29.50 L 197.50,31.50 L 197.50,36.50 L 195.50,39.50 Z M 150.50,91.50 L 150.50,81.50 L 154.50,81.50 L 156.50,83.50 L 156.50,84.50 L 154.50,86.50 L 150.50,86.50 M 153.50,86.50 L 156.50,91.50 M 159.50,82.50 L 161.50,81.50 L 164.50,81.50 L 165.50,82.50 L 165.50,84.50 L 159.50,91.50 L 165.50,91.50 M 147.50,99.50 L 150.50,97.50 L 150.50,107.50 M 146.50,107.50 L 152.50,107.50 M 158.50,97.50 L 160.50,97.50 L 161.50,99.50 L 161.50,105.50 L 160.50,107.50 L 158.50,107.50 L 156.50,105.50 L 156.50,99.50 Z M 166.50,107.50 L 166.50,97.50 M 172.50,97.50 L 166.50,104.50 M 168.50,102.50 L 172.50,107.50 M 144.50,171.50 L 144.50,161.50 L 148.50,161.50 L 150.50,163.50 L 150.50,164.50 L 148.50,166.50 L 144.50,166.50 M 147.50,166.50 L 150.50,171.50 M 153.50,161.50 L 156.50,171.50 L 160.50,161.50 M 162.50,162.50 L 164.50,161.50 L 167.50,161.50 L 168.50,162.50 L 168.50,164.50 L 162.50,171.50 L 168.50,171.50 M 144.50,178.50 L 146.50,177.50 L 149.50,177.50 L 150.50,178.50 L 150.50,180.50 L 144.50,187.50 L 150.50,187.50 M 156.50,177.50 L 158.50,177.50 L 159.50,179.50 L 159.50,185.50 L 158.50,187.50 L 156.50,187.50 L 154.50,185.50 L 154.50,179.50 Z M 164.50,187.50 L 164.50,177.50 M 170.50,177.50 L 164.50,184.50 M 166.50,182.50 L 170.50,187.50 M 118.50,212.50 L 117.50,211.50 L 114.50,211.50 L 112.50,213.50 L 112.50,219.50 L 114.50,221.50 L 116.50,221.50 L 118.50,219.50 L 118.50,216.50 L 115.50,216.50 M 122.50,221.50 L 122.50,211.50 L 128.50,221.50 L 128.50,211.50 M 133.50,221.50 L 133.50,211.50 L 137.50,211.50 L 138.50,213.50 L 138.50,218.50 L 136.50,221.50 Z M 197.50,232.50 L 195.50,231.50 L 192.50,231.50 L 190.50,233.50 L 190.50,239.50 L 192.50,241.50 L 195.50,241.50 L 197.50,240.50 M 201.50,233.50 L 204.50,231.50 L 204.50,241.50 M 200.50,241.50 L 206.50,241.50 M 193.50,271.50 L 196.50,269.50 L 196.50,279.50 M 192.50,279.50 L 198.50,279.50 M 202.50,272.50 L 202.50,277.50 L 204.50,279.50 L 206.50,279.50 L 208.50,278.50 M 208.50,272.50 L 208.50,279.50 M 216.50,269.50 L 211.50,269.50 L 211.50,279.50 M 211.50,274.50 L 215.50,274.50 M 72.50,159.50 L 75.50,169.50 L 79.50,159.50 M 83.50,169.50 L 83.50,159.50 L 86.50,159.50 L 88.50,161.50 L 88.50,166.50 L 86.50,169.50 Z M 92.50,169.50 L 92.50,159.50 L 95.50,159.50 L 97.50,161.50 L 97.50,166.50 L 95.50,169.50 Z M 52.50,221.50 L 52.50,211.50 L 56.50,211.50 L 58.50,213.50 L 58.50,214.50 L 56.50,216.50 L 52.50,216.50 M 55.50,216.50 L 58.50,221.50 M 62.50,213.50 L 65.50,211.50 L 65.50,221.50 M 61.50,221.50 L 67.50,221.50 M 47.50,229.50 L 50.50,227.50 L 50.50,237.50 M 46.50,237.50 L 52.50,237.50 M 58.50,227.50 L 60.50,227.50 L 62.50,229.50 L 62.50,235.50 L 60.50,237.50 L 58.50,237.50 L 56.50,235.50 L 56.50,229.50 Z M 66.50,237.50 L 66.50,227.50 M 73.50,227.50 L 66.50,234.50 M 68.50,232.50 L 73.50,237.50 M 44.50,311.50 L 44.50,301.50 L 48.50,301.50 L 50.50,303.50 L 50.50,304.50 L 48.50,306.50 L 44.50,306.50 M 47.50,306.50 L 50.50,311.50 M 52.50,301.50 L 55.50,311.50 L 59.50,301.50 M 63.50,303.50 L 65.50,301.50 L 65.50,311.50 M 62.50,311.50 L 68.50,311.50 M 42.50,320.50 L 44.50,319.50 L 47.50,319.50 L 48.50,320.50 L 48.50,322.50 L 42.50,329.50 L 48.50,329.50 M 54.50,319.50 L 56.50,319.50 L 57.50,321.50 L 57.50,327.50 L 56.50,329.50 L 54.50,329.50 L 52.50,327.50 L 52.50,321.50 Z M 62.50,329.50 L 62.50,319.50 M 69.50,319.50 L 62.50,326.50 M 64.50,324.50 L 69.50,329.50 M 78.50,430.50 L 77.50,429.50 L 74.50,429.50 L 72.50,431.50 L 72.50,437.50 L 74.50,439.50 L 76.50,439.50 L 78.50,437.50 L 78.50,434.50 L 75.50,434.50 M 82.50,439.50 L 82.50,429.50 L 88.50,439.50 L 88.50,429.50 M 93.50,439.50 L 93.50,429.50 L 97.50,429.50 L 98.50,431.50 L 98.50,436.50 L 96.50,439.50 Z M 262.50,269.50 L 265.50,279.50 L 269.50,269.50 M 272.50,269.50 L 272.50,279.50 M 276.50,279.50 L 276.50,269.50 L 282.50,279.50 L 282.50,269.50 M 269.50,290.50 L 268.50,289.50 L 265.50,289.50 L 263.50,291.50 L 263.50,297.50 L 265.50,299.50 L 268.50,299.50 L 269.50,298.50 M 276.50,289.50 L 275.50,289.50 L 273.50,290.50 L 273.50,299.50 M 272.50,292.50 L 276.50,292.50 M 262.50,309.50 L 265.50,319.50 L 269.50,309.50 M 271.50,319.50 L 275.50,309.50 L 278.50,319.50 M 272.50,316.50 L 277.50,316.50 M 287.50,310.50 L 286.50,309.50 L 283.50,309.50 L 281.50,310.50 L 281.50,312.50 L 282.50,313.50 L 286.50,315.50 L 287.50,316.50 L 287.50,318.50 L 286.50,319.50 L 282.50,319.50 L 281.50,318.50 M 269.50,330.50 L 268.50,329.50 L 265.50,329.50 L 263.50,331.50 L 263.50,337.50 L 265.50,339.50 L 268.50,339.50 L 270.50,337.50 L 270.50,334.50 L 267.50,334.50 M 273.50,339.50 L 273.50,329.50 L 280.50,339.50 L 280.50,329.50 M 285.50,339.50 L 285.50,329.50 L 289.50,329.50 L 291.50,331.50 L 291.50,336.50 L 288.50,339.50 Z M 321.50,269.50 L 325.50,279.50 L 328.50,269.50 M 332.50,279.50 L 332.50,269.50 L 336.50,269.50 L 337.50,271.50 L 337.50,276.50 L 335.50,279.50 Z M 342.50,279.50 L 342.50,269.50 L 346.50,269.50 L 347.50,271.50 L 347.50,276.50 L 345.50,279.50 Z M 318.50,289.50 L 321.50,299.50 L 325.50,289.50 M 328.50,292.50 L 331.50,292.50 L 332.50,293.50 L 332.50,298.50 L 331.50,299.50 L 328.50,299.50 L 327.50,298.50 L 327.50,293.50 Z M 336.50,292.50 L 336.50,297.50 L 338.50,299.50 L 340.50,299.50 L 341.50,298.50 M 341.50,292.50 L 341.50,299.50 M 345.50,289.50 L 345.50,298.50 L 347.50,299.50 L 348.50,299.50 M 344.50,292.50 L 348.50,292.50 M 326.50,309.50 L 329.50,309.50 L 331.50,311.50 L 331.50,317.50 L 329.50,319.50 L 326.50,319.50 L 324.50,317.50 L 324.50,311.50 Z M 334.50,309.50 L 339.50,309.50 M 336.50,309.50 L 336.50,319.50 M 347.50,309.50 L 342.50,309.50 L 342.50,319.50 M 342.50,314.50 L 345.50,314.50 M 331.50,339.50 L 331.50,329.50 L 337.50,339.50 L 337.50,329.50 M 348.50,330.50 L 346.50,329.50 L 343.50,329.50 L 341.50,331.50 L 341.50,337.50 L 343.50,339.50 L 346.50,339.50 L 348.50,338.50 M 257.50,229.50 L 257.50,237.50 L 259.50,239.50 L 261.50,239.50 L 263.50,237.50 L 263.50,229.50 M 268.50,231.50 L 271.50,229.50 L 271.50,239.50 M 267.50,239.50 L 273.50,239.50 M 255.50,247.50 L 260.50,247.50 M 257.50,247.50 L 257.50,257.50 M 269.50,248.50 L 268.50,247.50 L 265.50,247.50 L 263.50,249.50 L 263.50,255.50 L 265.50,257.50 L 268.50,257.50 L 269.50,256.50 M 278.50,247.50 L 276.50,247.50 L 274.50,250.50 L 273.50,252.50 L 273.50,255.50 L 275.50,257.50 L 277.50,257.50 L 279.50,255.50 L 279.50,253.50 L 277.50,251.50 L 275.50,251.50 L 273.50,252.50 M 286.50,247.50 L 283.50,253.50 L 289.50,253.50 M 288.50,250.50 L 288.50,257.50 M 294.50,252.50 L 292.50,250.50 L 292.50,249.50 L 294.50,247.50 L 296.50,247.50 L 298.50,249.50 L 298.50,250.50 L 296.50,252.50 Z M 294.50,252.50 L 292.50,253.50 L 292.50,255.50 L 294.50,257.50 L 297.50,257.50 L 298.50,255.50 L 298.50,253.50 L 296.50,252.50 M 301.50,247.50 L 304.50,257.50 L 308.50,247.50 M 312.50,247.50 L 315.50,247.50 L 317.50,249.50 L 317.50,255.50 L 315.50,257.50 L 312.50,257.50 L 310.50,255.50 L 310.50,249.50 Z M 320.50,257.50 L 324.50,247.50 L 327.50,257.50 M 321.50,254.50 L 326.50,254.50 M 329.50,247.50 L 335.50,247.50 L 331.50,257.50 M 340.50,249.50 L 342.50,247.50 L 342.50,257.50 M 339.50,257.50 L 345.50,257.50 M 348.50,247.50 L 354.50,247.50 L 351.50,251.50 L 352.50,251.50 L 354.50,253.50 L 354.50,255.50 L 353.50,257.50 L 349.50,257.50 L 348.50,256.50 M 228.50,430.50 L 227.50,429.50 L 224.50,429.50 L 222.50,431.50 L 222.50,437.50 L 224.50,439.50 L 226.50,439.50 L 228.50,437.50 L 228.50,434.50 L 225.50,434.50 M 232.50,439.50 L 232.50,429.50 L 238.50,439.50 L 238.50,429.50 M 243.50,439.50 L 243.50,429.50 L 247.50,429.50 L 248.50,431.50 L 248.50,436.50 L 246.50,439.50 Z M 382.50,199.50 L 385.50,209.50 L 389.50,199.50 M 392.50,209.50 L 392.50,199.50 L 395.50,199.50 L 397.50,201.50 L 397.50,206.50 L 395.50,209.50 Z M 402.50,209.50 L 402.50,199.50 L 405.50,199.50 L 407.50,201.50 L 407.50,206.50 L 405.50,209.50 Z M 444.50,226.50 L 442.50,225.50 L 439.50,225.50 L 437.50,227.50 L 437.50,233.50 L 439.50,235.50 L 442.50,235.50 L 444.50,234.50 M 447.50,226.50 L 449.50,225.50 L 452.50,225.50 L 453.50,226.50 L 453.50,228.50 L 447.50,235.50 L 453.50,235.50 M 434.50,243.50 L 437.50,241.50 L 437.50,251.50 M 433.50,251.50 L 439.50,251.50 M 443.50,244.50 L 443.50,249.50 L 445.50,251.50 L 447.50,251.50 L 449.50,250.50 M 449.50,244.50 L 449.50,251.50 M 457.50,241.50 L 452.50,241.50 L 452.50,251.50 M 452.50,246.50 L 456.50,246.50 M 518.50,270.50 L 517.50,269.50 L 514.50,269.50 L 512.50,271.50 L 512.50,277.50 L 514.50,279.50 L 516.50,279.50 L 518.50,277.50 L 518.50,274.50 L 515.50,274.50 M 522.50,279.50 L 522.50,269.50 L 528.50,279.50 L 528.50,269.50 M 533.50,279.50 L 533.50,269.50 L 537.50,269.50 L 538.50,271.50 L 538.50,276.50 L 536.50,279.50 Z M 436.50,337.50 L 436.50,327.50 L 440.50,327.50 L 442.50,329.50 L 442.50,330.50 L 440.50,332.50 L 436.50,332.50 M 439.50,332.50 L 442.50,337.50 M 445.50,327.50 L 451.50,327.50 L 448.50,331.50 L 449.50,331.50 L 451.50,333.50 L 451.50,335.50 L 450.50,337.50 L 447.50,337.50 L 445.50,336.50 M 435.50,345.50 L 438.50,343.50 L 438.50,353.50 M 434.50,353.50 L 440.50,353.50 M 446.50,343.50 L 448.50,343.50 L 449.50,345.50 L 449.50,351.50 L 448.50,353.50 L 446.50,353.50 L 444.50,351.50 L 444.50,345.50 Z M 454.50,353.50 L 454.50,343.50 M 460.50,343.50 L 454.50,350.50 M 456.50,348.50 L 460.50,353.50 M 563.50,281.50 L 562.50,282.50 L 562.50,285.50 L 564.50,287.50 L 570.50,287.50 L 572.50,285.50 L 572.50,282.50 L 571.50,281.50 M 522.50,311.50 L 522.50,301.50 L 526.50,301.50 L 527.50,303.50 L 527.50,304.50 L 526.50,306.50 L 522.50,306.50 M 526.50,306.50 L 528.50,307.50 L 528.50,309.50 L 526.50,311.50 L 522.50,311.50 M 562.50,341.50 L 562.50,346.50 L 572.50,346.50 L 572.50,341.50 M 567.50,346.50 L 567.50,342.50 M 600.50,299.50 L 603.50,299.50 L 605.50,301.50 L 605.50,307.50 L 603.50,309.50 L 600.50,309.50 L 598.50,307.50 L 598.50,301.50 Z M 602.50,306.50 L 605.50,309.50 M 609.50,301.50 L 611.50,299.50 L 611.50,309.50 M 608.50,309.50 L 614.50,309.50 M 598.50,329.50 L 598.50,319.50 L 604.50,329.50 L 604.50,319.50 M 609.50,329.50 L 609.50,319.50 L 612.50,319.50 L 614.50,321.50 L 614.50,322.50 L 612.50,324.50 L 609.50,324.50 M 618.50,329.50 L 618.50,319.50 L 624.50,329.50 L 624.50,319.50 M 566.50,402.50 L 565.50,401.50 L 562.50,401.50 L 560.50,403.50 L 560.50,409.50 L 562.50,411.50 L 564.50,411.50 L 566.50,409.50 L 566.50,406.50 L 563.50,406.50 M 570.50,411.50 L 570.50,401.50 L 576.50,411.50 L 576.50,401.50 M 581.50,411.50 L 581.50,401.50 L 585.50,401.50 L 586.50,403.50 L 586.50,408.50 L 584.50,411.50 Z M 428.50,376.50 L 428.50,366.50 L 431.50,366.50 L 433.50,368.50 L 433.50,373.50 L 431.50,376.50 Z M 438.50,368.50 L 440.50,366.50 L 440.50,376.50 M 437.50,376.50 L 443.50,376.50 M 428.50,386.50 L 428.50,396.50 L 433.50,396.50 M 441.50,386.50 L 436.50,386.50 L 436.50,396.50 L 441.50,396.50 M 436.50,391.50 L 440.50,391.50 M 446.50,396.50 L 446.50,386.50 L 450.50,386.50 L 451.50,388.50 L 451.50,393.50 L 449.50,396.50 Z M 372.50,471.50 L 372.50,461.50 L 376.50,461.50 L 378.50,463.50 L 378.50,464.50 L 376.50,466.50 L 372.50,466.50 M 375.50,466.50 L 378.50,471.50 M 384.50,461.50 L 381.50,467.50 L 387.50,467.50 M 386.50,464.50 L 386.50,471.50 M 367.50,479.50 L 370.50,477.50 L 370.50,487.50 M 366.50,487.50 L 372.50,487.50 M 378.50,477.50 L 380.50,477.50 L 381.50,479.50 L 381.50,485.50 L 380.50,487.50 L 378.50,487.50 L 376.50,485.50 L 376.50,479.50 Z M 386.50,487.50 L 386.50,477.50 M 392.50,477.50 L 386.50,484.50 M 388.50,482.50 L 392.50,487.50 M 467.50,499.50 L 471.50,509.50 L 474.50,499.50 M 478.50,509.50 L 478.50,499.50 L 482.50,499.50 L 483.50,501.50 L 483.50,506.50 L 481.50,509.50 Z M 488.50,509.50 L 488.50,499.50 L 492.50,499.50 L 493.50,501.50 L 493.50,506.50 L 491.50,509.50 Z M 631.50,209.50 L 631.50,217.50 L 629.50,219.50 L 627.50,219.50 M 636.50,211.50 L 639.50,209.50 L 639.50,219.50 M 635.50,219.50 L 641.50,219.50 M 498.50,149.50 L 501.50,159.50 L 505.50,149.50 M 513.50,149.50 L 508.50,149.50 L 508.50,159.50 M 508.50,154.50 L 512.50,154.50 M 515.50,159.50 L 519.50,149.50 L 522.50,159.50 M 516.50,156.50 L 521.50,156.50 M 525.50,159.50 L 525.50,149.50 L 531.50,159.50 L 531.50,149.50 M 542.50,149.50 L 545.50,159.50 L 549.50,149.50 M 552.50,159.50 L 552.50,149.50 L 555.50,149.50 L 557.50,151.50 L 557.50,156.50 L 555.50,159.50 Z M 562.50,159.50 L 562.50,149.50 L 565.50,149.50 L 567.50,151.50 L 567.50,156.50 L 565.50,159.50 Z M 692.50,129.50 L 695.50,139.50 L 699.50,129.50 M 702.50,139.50 L 702.50,129.50 L 705.50,129.50 L 707.50,131.50 L 707.50,136.50 L 705.50,139.50 Z M 712.50,139.50 L 712.50,129.50 L 715.50,129.50 L 717.50,131.50 L 717.50,136.50 L 715.50,139.50 Z M 760.50,209.50 L 760.50,217.50 L 759.50,219.50 L 757.50,219.50 M 765.50,210.50 L 767.50,209.50 L 770.50,209.50 L 771.50,210.50 L 771.50,212.50 L 765.50,219.50 L 771.50,219.50 M 696.50,312.50 L 695.50,311.50 L 692.50,311.50 L 690.50,313.50 L 690.50,319.50 L 692.50,321.50 L 694.50,321.50 L 696.50,319.50 L 696.50,316.50 L 693.50,316.50 M 700.50,321.50 L 700.50,311.50 L 706.50,321.50 L 706.50,311.50 M 711.50,321.50 L 711.50,311.50 L 715.50,311.50 L 716.50,313.50 L 716.50,318.50 L 714.50,321.50 Z" fill="none" stroke="#006464" stroke-width="1.1" stroke-linecap="round" stroke-linejoin="round"/>
<path d="M 174.50,151.50 L 172.50,148.50 L 182.50,148.50 M 182.50,152.50 L 182.50,146.50 M 172.50,202.50 L 172.50,196.50 L 176.50,199.50 L 176.50,198.50 L 178.50,196.50 L 180.50,196.50 L 182.50,197.50 L 182.50,201.50 L 181.50,202.50 M 207.50,162.50 L 209.50,161.50 L 212.50,161.50 L 213.50,162.50 L 213.50,164.50 L 207.50,171.50 L 213.50,171.50 M 74.50,291.50 L 72.50,289.50 L 82.50,289.50 M 82.50,292.50 L 82.50,286.50 M 72.50,342.50 L 72.50,336.50 L 76.50,339.50 L 76.50,338.50 L 78.50,336.50 L 80.50,336.50 L 82.50,338.50 L 82.50,341.50 L 81.50,342.50 M 107.50,302.50 L 109.50,301.50 L 111.50,301.50 L 113.50,302.50 L 113.50,304.50 L 107.50,311.50 L 113.50,311.50 M 243.50,263.50 L 246.50,261.50 L 246.50,271.50 M 242.50,271.50 L 248.50,271.50 M 364.50,266.50 L 362.50,264.50 L 362.50,263.50 L 364.50,261.50 L 366.50,261.50 L 368.50,263.50 L 368.50,264.50 L 367.50,266.50 Z M 364.50,266.50 L 362.50,267.50 L 362.50,269.50 L 364.50,271.50 L 367.50,271.50 L 368.50,269.50 L 368.50,267.50 L 367.50,266.50 M 242.50,282.50 L 244.50,281.50 L 247.50,281.50 L 248.50,282.50 L 248.50,284.50 L 242.50,291.50 L 248.50,291.50 M 362.50,281.50 L 368.50,281.50 L 364.50,291.50 M 242.50,301.50 L 248.50,301.50 L 245.50,305.50 L 246.50,305.50 L 248.50,307.50 L 248.50,309.50 L 247.50,311.50 L 244.50,311.50 L 242.50,310.50 M 368.50,301.50 L 365.50,301.50 L 363.50,304.50 L 362.50,306.50 L 362.50,309.50 L 364.50,311.50 L 367.50,311.50 L 368.50,309.50 L 368.50,307.50 L 367.50,305.50 L 364.50,305.50 L 362.50,306.50 M 245.50,321.50 L 242.50,327.50 L 248.50,327.50 M 247.50,324.50 L 247.50,331.50 M 368.50,321.50 L 363.50,321.50 L 362.50,326.50 L 363.50,325.50 L 367.50,325.50 L 368.50,327.50 L 368.50,329.50 L 367.50,331.50 L 364.50,331.50 L 362.50,330.50 M 590.50,181.50 L 587.50,187.50 L 593.50,187.50 M 592.50,184.50 L 592.50,191.50 M 587.50,201.50 L 593.50,201.50 L 590.50,205.50 L 591.50,205.50 L 593.50,207.50 L 593.50,209.50 L 592.50,211.50 L 588.50,211.50 L 587.50,210.50 M 587.50,222.50 L 589.50,221.50 L 592.50,221.50 L 593.50,222.50 L 593.50,224.50 L 587.50,231.50 L 593.50,231.50 M 588.50,243.50 L 591.50,241.50 L 591.50,251.50 M 587.50,251.50 L 593.50,251.50 M 720.50,181.50 L 717.50,187.50 L 723.50,187.50 M 722.50,184.50 L 722.50,191.50 M 717.50,201.50 L 723.50,201.50 L 720.50,205.50 L 721.50,205.50 L 723.50,207.50 L 723.50,209.50 L 722.50,211.50 L 718.50,211.50 L 717.50,210.50 M 717.50,222.50 L 719.50,221.50 L 722.50,221.50 L 723.50,222.50 L 723.50,224.50 L 717.50,231.50 L 723.50,231.50 M 718.50,243.50 L 721.50,241.50 L 721.50,251.50 M 717.50,251.50 L 723.50,251.50" fill="none" stroke="#a90000" stroke-width="1.1" stroke-linecap="round" stroke-linejoin="round"/>
</svg></body></html>
